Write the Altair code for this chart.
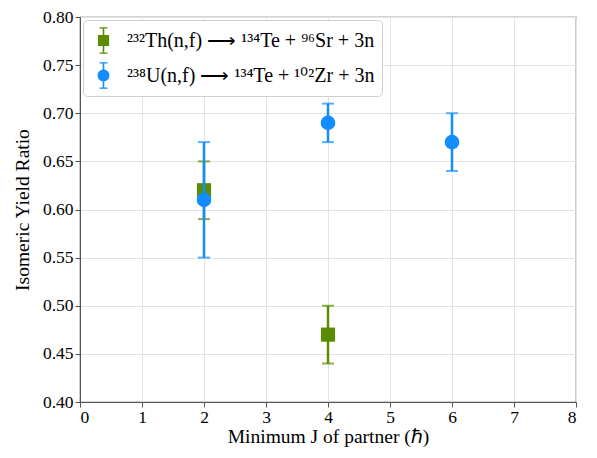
import altair as alt
import pandas as pd

series = ["²³²Th(n,f) ⟶ ¹³⁴Te + ⁹⁶Sr + 3n", "²³⁸U(n,f) ⟶ ¹³⁴Te + ¹⁰²Zr + 3n"]
th_j = [2, 4]
th_ratio = [0.62, 0.47]
th_lo = [0.59, 0.44]
th_hi = [0.65, 0.50]
u_j = [2, 4, 6]
u_ratio = [0.61, 0.69, 0.67]
u_lo = [0.55, 0.67, 0.64]
u_hi = [0.67, 0.71, 0.70]
colors = ["#5b8c00", "#128cff"]

rows = []
for j, r, lo, hi in zip(th_j, th_ratio, th_lo, th_hi):
    rows.append(dict(J=j, ratio=r, lo=lo, hi=hi, series=series[0]))
for j, r, lo, hi in zip(u_j, u_ratio, u_lo, u_hi):
    rows.append(dict(J=j, ratio=r, lo=lo, hi=hi, series=series[1]))
df = pd.DataFrame(rows)

FONT = "Liberation Serif"
xs = alt.Scale(domain=[0, 8], nice=False)
ys = alt.Scale(domain=[0.40, 0.80], nice=False, zero=False)
cs = alt.Scale(domain=series, range=colors)

# legend glyphs: marker with error bar (unit square coordinates)
bar = "M-0.06,-1 H0.06 V1 H-0.06 Z M-0.3,-1 H0.3 V-0.9 H-0.3 Z M-0.3,0.9 H0.3 V1 H-0.3 Z "
sq_path = bar + "M-0.42,-0.42 H0.42 V0.42 H-0.42 Z"
ci_path = bar + "M0.45,0 A0.45,0.45 0 1,1 -0.45,0 A0.45,0.45 0 1,1 0.45,0 Z"
shs = alt.Scale(domain=series, range=[sq_path, ci_path])

base = alt.Chart(df)
x = alt.X("J:Q", scale=xs, title="Minimum J of partner (ℏ)",
          axis=alt.Axis(values=list(range(0, 9)), format="d"))
y = alt.Y("ratio:Q", scale=ys, title="Isomeric Yield Ratio",
          axis=alt.Axis(values=[0.40, 0.45, 0.50, 0.55, 0.60, 0.65, 0.70, 0.75, 0.80], format=".2f"))

legend = alt.Legend(
    title=None, orient="top-left", offset=3,
    fillColor="white", strokeColor="#d0d0d0", padding=7, cornerRadius=4,
    labelFont=FONT, labelFontSize=20, labelColor="black", labelOffset=10,
    symbolSize=700, symbolStrokeWidth=0, symbolOpacity=1, rowPadding=8, labelLimit=500,
)

layers = []
for i, s in enumerate(series):
    sub = base.transform_filter(alt.datum.series == s)
    col = colors[i]
    rule = sub.mark_rule(color=col, strokeWidth=2.5).encode(x=x, y=alt.Y("lo:Q", scale=ys), y2="hi:Q")
    caplo = sub.mark_tick(color=col, size=12, thickness=2, orient="horizontal").encode(x=x, y=alt.Y("lo:Q", scale=ys))
    caphi = sub.mark_tick(color=col, size=12, thickness=2, orient="horizontal").encode(x=x, y=alt.Y("hi:Q", scale=ys))
    pts = sub.mark_point(filled=True, opacity=1, shape="square" if i == 0 else "circle",
                         size=200 if i == 0 else 215).encode(
        x=x, y=y,
        color=alt.Color("series:N", scale=cs, sort=series, legend=legend),
    )
    layers += [rule, caplo, caphi, pts]

legend_layer = base.mark_point(filled=True, size=700).encode(
    x=x, y=y,
    color=alt.Color("series:N", scale=cs, sort=series, legend=legend),
    shape=alt.Shape("series:N", scale=shs, sort=series, legend=legend),
    opacity=alt.value(0),
)
layers.append(legend_layer)

chart = alt.layer(*layers).properties(
    width=496, height=385,
    autosize=alt.AutoSizeParams(type="none"),
    padding={"left": 72, "top": 9, "right": 5, "bottom": 48},
).configure_view(stroke="#555555", strokeWidth=1.2).configure_axis(
    labelFont=FONT, titleFont=FONT, labelFontSize=17.5, titleFontSize=19.5,
    labelColor="black", titleColor="black", titleFontWeight="normal",
    gridColor="#e3e3e3", gridWidth=1, domainColor="#555555", tickColor="#555555",
    tickSize=5, labelPadding=2,
).configure_axisY(titlePadding=10).configure_axisX(titlePadding=2, labelPadding=1)

chart.save("out.html", embed_options={"renderer": "svg", "actions": False})
